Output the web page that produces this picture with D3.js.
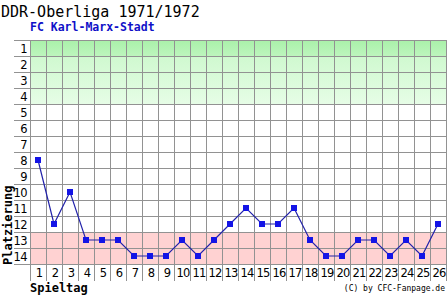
<!DOCTYPE html>
<html>
<head>
<meta charset="utf-8">
<script src="https://cdn.jsdelivr.net/npm/d3@7"></script>
<style>
  body { margin: 0; background: #fff; }
  svg { display: block; }
</style>
</head>
<body>
<div id="chart"></div>
<script>
const title = "DDR-Oberliga 1971/1972";
const team = "FC Karl-Marx-Stadt";
const rounds = d3.range(1, 27);
const places = [8, 12, 10, 13, 13, 13, 14, 14, 14, 13, 14, 13, 12, 11, 12, 12, 11, 13, 14, 14, 13, 13, 14, 13, 14, 12];
const placeTicks = d3.range(1, 15);
const topZone = [1];
const uefaZone = [2, 3, 4];
const dropZone = [13, 14];

const width = 447, height = 295;
const plotLeft = 30, plotRight = 446, plotTop = 40, plotBottom = 264;

const svg = d3.select("#chart").append("svg")
    .attr("width", width)
    .attr("height", height);

const x = d3.scaleBand().domain(rounds).range([plotLeft, plotRight]);
const y = d3.scaleBand().domain(placeTicks).range([plotTop, plotBottom]);

const defs = svg.append("defs");
const g1 = defs.append("linearGradient").attr("id", "g1").attr("x1", 0).attr("y1", 0).attr("x2", 0).attr("y2", 1);
g1.append("stop").attr("offset", "0%").attr("stop-color", "#a9f1a9");
g1.append("stop").attr("offset", "100%").attr("stop-color", "#bdf5bd");
const g2 = defs.append("linearGradient").attr("id", "g2").attr("x1", 0).attr("y1", 0).attr("x2", 0).attr("y2", 1);
g2.append("stop").attr("offset", "0%").attr("stop-color", "#cff9cf");
g2.append("stop").attr("offset", "100%").attr("stop-color", "#e6fde6");

// Zonen
svg.append("rect")
    .attr("x", plotLeft).attr("y", y(topZone[0]))
    .attr("width", plotRight - plotLeft).attr("height", y.bandwidth() * topZone.length)
    .attr("fill", "url(#g1)");
svg.append("rect")
    .attr("x", plotLeft).attr("y", y(uefaZone[0]))
    .attr("width", plotRight - plotLeft).attr("height", y.bandwidth() * uefaZone.length)
    .attr("fill", "url(#g2)");
svg.append("rect")
    .attr("x", plotLeft).attr("y", y(dropZone[0]))
    .attr("width", plotRight - plotLeft).attr("height", y.bandwidth() * dropZone.length)
    .attr("fill", "#ffd2d2");

// Gitter
const grid = svg.append("g").attr("stroke", "#929292").attr("stroke-width", 1);
grid.selectAll("line.h")
    .data(placeTicks.concat([15]))
    .join("line")
    .attr("class", "h")
    .attr("x1", 14).attr("x2", plotRight)
    .attr("y1", d => (d <= 14 ? y(d) : plotBottom) + 0.5)
    .attr("y2", d => (d <= 14 ? y(d) : plotBottom) + 0.5);
grid.selectAll("line.v")
    .data(rounds.concat([27]))
    .join("line")
    .attr("class", "v")
    .attr("x1", d => (d <= 26 ? x(d) : plotRight) + 0.5)
    .attr("x2", d => (d <= 26 ? x(d) : plotRight) + 0.5)
    .attr("y1", plotTop).attr("y2", 281);

// Achsenbeschriftung
svg.append("g")
    .selectAll("text")
    .data(placeTicks)
    .join("text")
    .attr("x", 27)
    .attr("y", d => y(d) + y.bandwidth() / 2 + 4.5)
    .attr("text-anchor", "end")
    .attr("font-family", "DejaVu Sans")
    .attr("font-size", 11.5)
    .attr("letter-spacing", -0.6)
    .attr("fill", "#000")
    .text(d => d);

svg.append("g")
    .selectAll("text")
    .data(rounds)
    .join("text")
    .attr("x", d => x(d) + x.bandwidth() / 2 + 1)
    .attr("y", 277)
    .attr("text-anchor", "middle")
    .attr("font-family", "DejaVu Sans")
    .attr("font-size", 11.5)
    .attr("letter-spacing", -0.8)
    .attr("fill", "#000")
    .text(d => d);

// Verlauf
const line = d3.line()
    .x((d, i) => x(rounds[i]) + x.bandwidth() / 2)
    .y(d => y(d) + y.bandwidth() / 2);

svg.append("path")
    .datum(places)
    .attr("d", line)
    .attr("fill", "none")
    .attr("stroke", "#2222aa")
    .attr("stroke-width", 1.2);

svg.append("g")
    .selectAll("rect")
    .data(places)
    .join("rect")
    .attr("x", (d, i) => x(rounds[i]) + x.bandwidth() / 2 - 3)
    .attr("y", d => y(d) + y.bandwidth() / 2 - 3)
    .attr("width", 6).attr("height", 6)
    .attr("fill", "#1414e6");

// Titel
svg.append("text")
    .attr("x", 1).attr("y", 17)
    .attr("font-family", "DejaVu Sans Mono")
    .attr("font-size", 15)
    .attr("fill", "#000")
    .text(title);

svg.append("text")
    .attr("x", 30).attr("y", 31)
    .attr("font-family", "DejaVu Sans Mono")
    .attr("font-weight", "bold")
    .attr("font-size", 11.5)
    .attr("fill", "#1010c8")
    .text(team);

svg.append("text")
    .attr("transform", "translate(12," + 265 + ") rotate(-90)")
    .attr("font-family", "DejaVu Sans Mono")
    .attr("font-weight", "bold")
    .attr("font-size", 12)
    .attr("fill", "#000")
    .text("Platzierung");

svg.append("text")
    .attr("x", 30).attr("y", 292)
    .attr("font-family", "DejaVu Sans Mono")
    .attr("font-weight", "bold")
    .attr("font-size", 12)
    .attr("fill", "#000")
    .text("Spieltag");

svg.append("text")
    .attr("x", 445).attr("y", 291)
    .attr("text-anchor", "end")
    .attr("font-family", "DejaVu Sans Mono")
    .attr("font-size", 8)
    .attr("fill", "#000")
    .text("(C) by CFC-Fanpage.de");
</script>
</body>
</html>
